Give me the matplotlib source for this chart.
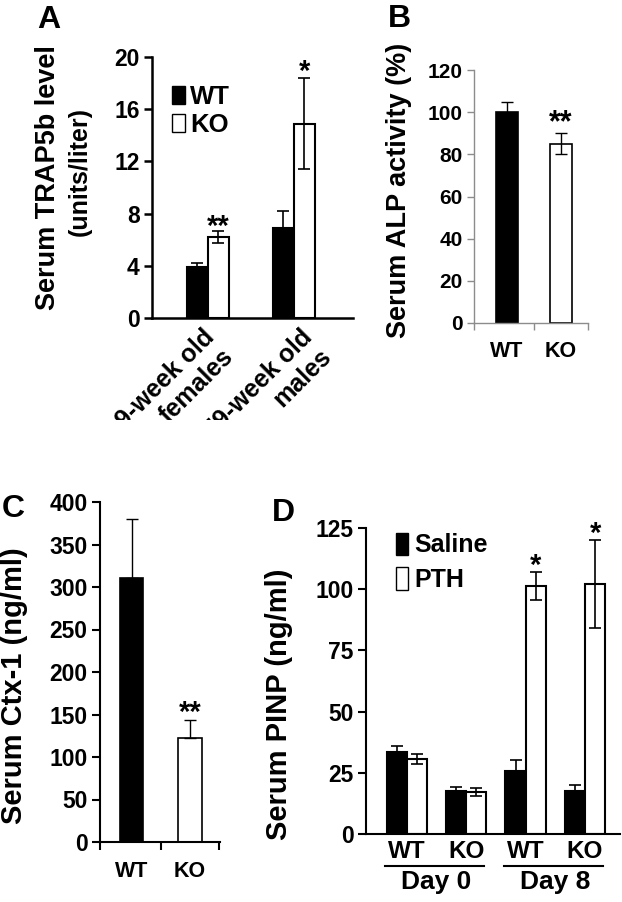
import matplotlib
matplotlib.use("Agg")
import matplotlib.pyplot as plt
from matplotlib.patches import Patch
from matplotlib.transforms import Bbox
import numpy as np

plt.rcParams['font.family'] = ['Liberation Sans', 'DejaVu Sans']
plt.rcParams['font.weight'] = 'bold'

# ---------------- data ----------------
# Panel A
a_groups = ["9-week old\nfemales", "79-week old\nmales"]
a_wt = [3.9, 6.9]
a_wt_err = [0.35, 1.3]
a_ko = [6.2, 14.9]
a_ko_err = [0.45, 3.5]
a_sig = ["**", "*"]
a_yticks = [0, 4, 8, 12, 16, 20]
a_ylabel = ["Serum TRAP5b level", "(units/liter)"]

# Panel B
b_cats = ["WT", "KO"]
b_vals = [100, 85]
b_err = [5, 5]
b_sig = ["", "**"]
b_yticks = [0, 20, 40, 60, 80, 100, 120]

# Panel C
c_cats = ["WT", "KO"]
c_vals = [311, 122]
c_err = [69, 22]
c_sig = ["", "**"]
c_yticks = [0, 50, 100, 150, 200, 250, 300, 350, 400]

# Panel D
d_genotypes = ["WT", "KO", "WT", "KO"]
d_days = ["Day 0", "Day 8"]
d_saline = [33.4, 17.7, 25.9, 17.4]
d_saline_err = [2.4, 1.5, 4.5, 2.8]
d_pth = [30.7, 17.2, 101.3, 102.0]
d_pth_err = [2.0, 1.5, 5.8, 18.0]
d_sig = ["", "", "*", "*"]
d_yticks = [0, 25, 50, 75, 100, 125]

W, H = 622, 902
fig = plt.figure(figsize=(W / 100, H / 100), dpi=100)


def ax_px(left, top, right, bottom):
    return fig.add_axes([left / W, 1 - bottom / H, (right - left) / W, (bottom - top) / H])


def style(ax, color='black', lw=1.5):
    for s in ['top', 'right']:
        ax.spines[s].set_visible(False)
    for s in ['left', 'bottom']:
        ax.spines[s].set_color(color)
        ax.spines[s].set_linewidth(lw)
    ax.tick_params(colors=color, width=lw)


def star(ax, x, y, s, off_px, size=21):
    # glyph centre sits about off_px above the error-bar top
    ax.annotate(s, (x, y), xytext=(0, (off_px - 0.45 * size * 100 / 72) * 72 / 100),
                textcoords='offset points', ha='center', va='baseline',
                fontsize=size, fontweight='bold')


ekw = dict(ecolor='black', elinewidth=1.2, capsize=4.5, capthick=1.2)

# ---------------- Panel A ----------------
axA = ax_px(152, 57, 353, 318)
style(axA, lw=1.8)
xa = np.arange(len(a_groups))
bw = 0.245
axA.bar(xa - bw / 2, a_wt, bw, color='black', edgecolor='black', lw=1.5,
        yerr=[a_wt_err, a_wt_err], error_kw=ekw)
axA.bar(xa + bw / 2, a_ko, bw, color='white', edgecolor='black', lw=1.5,
        yerr=[a_ko_err, a_ko_err], error_kw=ekw)
star(axA, xa[0] + bw / 2, a_ko[0] + a_ko_err[0], a_sig[0], 9)
star(axA, xa[1] + bw / 2, a_ko[1] + a_ko_err[1], a_sig[1], 11)
axA.set_ylim(0, 20)
axA.set_xlim(-0.65, 1.69)
axA.set_yticks(a_yticks)
axA.tick_params(axis='y', labelsize=16.5, length=6, pad=3)
axA.set_xticks(xa + np.array([-0.07, 0.07]))
axA.set_xticklabels(a_groups, rotation=45, ha='right', va='top', rotation_mode='anchor',
                    fontsize=18, multialignment='right', linespacing=1.2)
axA.tick_params(axis='x', length=0, pad=5)
clip = Bbox.from_extents(0, 1 - 420 / H, 1, 1)
for lab in axA.get_xticklabels():
    lab.set_clip_on(True)
    lab.set_clip_box(fig.transFigure.transform_bbox(clip))
fig.text(48 / W, 1 - 177.5 / H, a_ylabel[0], rotation=90, ha='center', va='center',
         fontsize=19.5, fontweight='bold')
fig.text(80 / W, 1 - 171.5 / H, a_ylabel[1], rotation=90, ha='center', va='center',
         fontsize=18, fontweight='bold')
axA.legend(handles=[Patch(facecolor='black', edgecolor='black'),
                    Patch(facecolor='white', edgecolor='black')],
           labels=["WT", "KO"], loc='upper left', bbox_to_anchor=(0.10, 0.892),
           frameon=False, fontsize=18.5, handlelength=0.5, handleheight=0.72,
           handletextpad=0.2, labelspacing=0.15, borderpad=0, borderaxespad=0)
fig.text(37 / W, 1 - 5 / H, "A", fontsize=23, fontweight='bold', va='top', ha='left')

# ---------------- Panel B ----------------
axB = ax_px(474, 70, 588, 323)
style(axB, color='#8c8c8c', lw=1.0)
xb = np.arange(len(b_cats))
bwb = 0.41
ekwb = dict(ekw, elinewidth=1.0, capthick=1.0)
axB.bar(xb[0], b_vals[0], bwb, color='black', edgecolor='black', lw=1.2,
        yerr=[[b_err[0]], [b_err[0]]], error_kw=ekwb)
axB.bar(xb[1], b_vals[1], bwb, color='white', edgecolor='black', lw=1.2,
        yerr=[[b_err[1]], [b_err[1]]], error_kw=ekwb)
for i, s in enumerate(b_sig):
    if s:
        star(axB, xb[i], b_vals[i] + b_err[i], s, 16, size=22)
axB.set_ylim(0, 120)
axB.set_xlim(-0.61, 1.5)
axB.set_yticks(b_yticks)
axB.tick_params(axis='y', labelsize=15, length=5, pad=3, labelcolor='black')
axB.set_xticks(xb)
axB.set_xticklabels(b_cats, fontsize=15.5)
axB.tick_params(axis='x', length=0, pad=13, labelcolor='black')
axB.set_xticks([-0.61, 0.5, 1.5], minor=True)
axB.tick_params(axis='x', which='minor', length=5, color='#8c8c8c', width=1.0)
axB.set_ylabel("Serum ALP activity (%)", fontsize=19.5, fontweight='bold')
axB.yaxis.set_label_coords(-0.544, 0.524)
fig.text(388 / W, 1 - 4 / H, "B", fontsize=23, fontweight='bold', va='top', ha='left')

# ---------------- Panel C ----------------
axC = ax_px(100, 502, 220, 842)
style(axC, lw=1.5)
xc = np.arange(len(c_cats))
bwc = 0.4
axC.bar(xc[0], c_vals[0], bwc, color='black', edgecolor='black', lw=1.2,
        yerr=[[0], [c_err[0]]], error_kw=ekwb)
axC.bar(xc[1], c_vals[1], bwc, color='white', edgecolor='black', lw=1.2,
        yerr=[[0], [c_err[1]]], error_kw=ekwb)
for i, s in enumerate(c_sig):
    if s:
        star(axC, xc[i], c_vals[i] + c_err[i], s, 12)
axC.set_ylim(0, 400)
axC.set_xlim(-0.54, 1.51)
axC.set_yticks(c_yticks)
axC.tick_params(axis='y', labelsize=16.5, length=6, pad=3)
axC.set_xticks(xc)
axC.set_xticklabels(c_cats, fontsize=15.5)
axC.tick_params(axis='x', length=0, pad=14)
axC.set_xticks([-0.54, 0.5, 1.5], minor=True)
axC.tick_params(axis='x', which='minor', length=6, width=1.5)
axC.set_ylabel("Serum Ctx-1 (ng/ml)", fontsize=21, fontweight='bold')
axC.yaxis.set_label_coords(-0.6, 0.459)
fig.text(2 / W, 1 - 494 / H, "C", fontsize=23, fontweight='bold', va='top', ha='left')

# ---------------- Panel D ----------------
axD = ax_px(366, 528, 620, 834)
style(axD, lw=1.5)
xd = np.arange(len(d_genotypes))
bwd = 0.34
axD.bar(xd - bwd / 2, d_saline, bwd, color='black', edgecolor='black', lw=1.5,
        yerr=[d_saline_err, d_saline_err], error_kw=ekw)
axD.bar(xd + bwd / 2, d_pth, bwd, color='white', edgecolor='black', lw=1.5,
        yerr=[d_pth_err, d_pth_err], error_kw=ekw)
for i, s in enumerate(d_sig):
    if s:
        star(axD, xd[i] + bwd / 2, d_pth[i] + d_pth_err[i], s, 11)
axD.set_ylim(0, 125)
axD.set_xlim(-0.69, 3.59)
axD.set_yticks(d_yticks)
axD.tick_params(axis='y', labelsize=16.5, length=6, pad=3)
axD.set_xticks(xd)
axD.set_xticklabels(d_genotypes, fontsize=17.5)
axD.tick_params(axis='x', length=0, pad=4)
tr = axD.get_xaxis_transform()
for k, day in enumerate(d_days):
    x0, x1 = xd[2 * k] - 0.37, xd[2 * k + 1] + 0.3
    axD.plot([x0, x1], [-0.105, -0.105], color='black', lw=1.5, transform=tr, clip_on=False)
    axD.text((xd[2 * k] + xd[2 * k + 1]) / 2, -0.118, day, transform=tr, ha='center',
             va='top', fontsize=19, fontweight='bold')
axD.legend(handles=[Patch(facecolor='black', edgecolor='black'),
                    Patch(facecolor='white', edgecolor='black')],
           labels=["Saline", "PTH"], loc='upper left', bbox_to_anchor=(0.12, 0.985),
           frameon=False, fontsize=18, handlelength=0.48, handleheight=1.0,
           handletextpad=0.25, labelspacing=0.4, borderpad=0, borderaxespad=0)
axD.set_ylabel("Serum PINP (ng/ml)", fontsize=21, fontweight='bold')
axD.yaxis.set_label_coords(-0.287, 0.425)
fig.text(272 / W, 1 - 498 / H, "D", fontsize=23, fontweight='bold', va='top', ha='left')

fig.savefig("out.png", dpi=100)
